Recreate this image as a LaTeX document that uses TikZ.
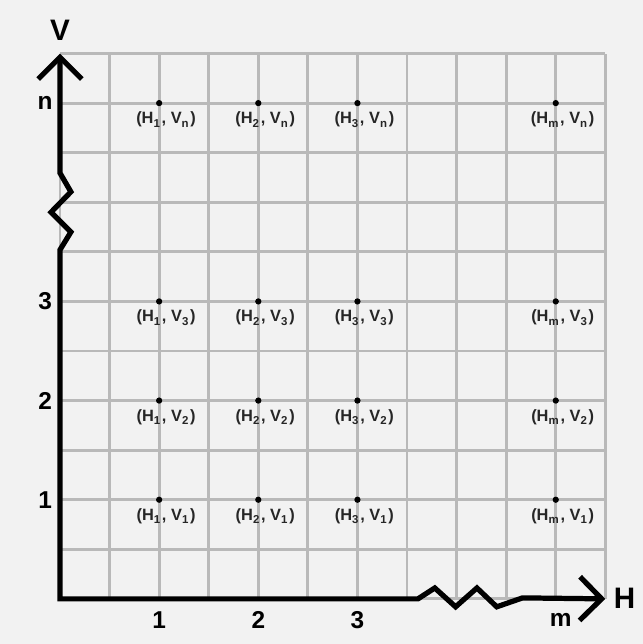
\documentclass[tikz,border=0pt]{standalone}
\usepackage{fontspec}
\setmainfont{Liberation Sans}
\usetikzlibrary{arrows.meta,positioning}

\tikzset{
  gridline/.style={gray!55,line width=0.8pt},
  axisline/.style={line width=1.5pt,line join=miter},
  ticklabel/.style={font=\bfseries\fontsize{7}{8}\selectfont,inner sep=0pt},
  axislabel/.style={font=\bfseries\fontsize{8.5}{10}\selectfont,inner sep=0pt},
  ptlabel/.style={font=\bfseries\fontsize{4.7}{6}\selectfont,inner sep=0pt,text=black!85},
  ptdot/.style={circle,fill=black,inner sep=0pt,minimum size=1.8pt},
}

\begin{document}
\begin{tikzpicture}[x=0.5cm,y=0.5cm,>={Straight Barb[length=2.2mm,width=4.4mm]}]
\fill[white!95!black] (-1.21,-0.91) rectangle (11.75,12.08);
\useasboundingbox (-1.21,-0.91) rectangle (11.75,12.08);
% grid
\draw[gridline,step=0.5cm] (0,0) grid (11,11);
% axes with breaks
\coordinate (vtip) at (0,11);
\coordinate (origin) at (0,0);
\coordinate (htip) at (11,0);
\draw[axisline,<->] (vtip) -- (0,8.59) -- (0.22,8.21) -- (-0.18,7.80) -- (0.22,7.40) -- (0,7.04)
  -- (origin) -- (7.22,0) -- (7.56,0.22) -- (7.98,-0.16) -- (8.41,0.22) -- (8.81,-0.16) -- (9.33,0.02) -- (htip);
\node[axislabel] (vlab) at (0,11.47) {V};
\node[axislabel] (hlab) at (11.39,0.02) {H};
% ticks
\foreach \y/\t in {2/1,4/2,6/3,10/n}
  \node[ticklabel] (vt-\t) at (-0.3,\y) {\t};
\foreach \x/\t in {2/1,4/2,6/3,10.1/m}
  \node[ticklabel] (ht-\t) at (\x,-0.42) {\t};
% points
\foreach \x/\hn in {2/1,4/2,6/3,10/m}
  \foreach \y/\vn in {2/1,4/2,6/3,10/n} {
    \node[ptdot] (p-\hn-\vn) at (\x,\y) {};
    \node[ptlabel] (l-\hn-\vn) at ([xshift=0.7mm,yshift=-1.65mm]p-\hn-\vn)
      {(H\textsubscript{\hn}, V\textsubscript{\vn})};
  }
\end{tikzpicture}
\end{document}
